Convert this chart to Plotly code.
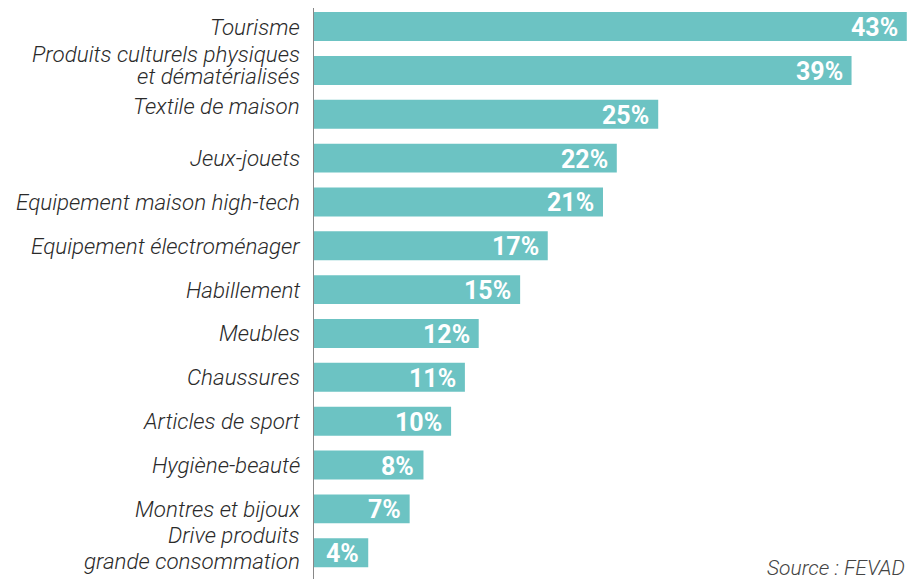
import plotly.graph_objects as go

categories = [
    "Tourisme",
    "Produits culturels physiques<br>et dématérialisés",
    "Textile de maison",
    "Jeux-jouets",
    "Equipement maison high-tech",
    "Equipement électroménager",
    "Habillement",
    "Meubles",
    "Chaussures",
    "Articles de sport",
    "Hygiène-beauté",
    "Montres et bijoux",
    "Drive produits<br>grande consommation",
]
values = [43, 39, 25, 22, 21, 17, 15, 12, 11, 10, 8, 7, 4]
source_text = "Source : FEVAD"

FONT = "Roboto, Liberation Sans, sans-serif"
BAR_COLOR = "#6cc3c3"
LABEL_SIZE = 22.4
LINE_STEP = {1: 22, 12: 26}   # line spacing for wrapped category labels (px)
MULTI_LINE_LIFT = 5           # wrapped labels sit a bit above bar centre
LABEL_LIFT = {2: 8}           # "Textile de maison" sits higher in the original

fig = go.Figure()
fig.add_trace(go.Bar(
    x=values,
    y=categories,
    orientation="h",
    marker=dict(color=BAR_COLOR, line=dict(width=0)),
    hoverinfo="skip",
))

annotations = []
# category labels (left of the axis)
for i, c in enumerate(categories):
    lines = c.split("<br>")
    n = len(lines)
    step = LINE_STEP.get(i, 22)
    base = LABEL_LIFT.get(i, 0) + (MULTI_LINE_LIFT if n > 1 else 0)
    for j, line in enumerate(lines):
        annotations.append(dict(
            x=0, y=c, xref="x", yref="y",
            text=f"<i>{line}</i>", showarrow=False,
            xanchor="right", yanchor="middle",
            xshift=-11, yshift=base + ((n - 1) / 2 - j) * step,
            font=dict(family=FONT, size=LABEL_SIZE, color="#2a2a2a", weight=300),
        ))
# value labels inside bar ends
for c, v in zip(categories, values):
    annotations.append(dict(
        x=v, y=c, xref="x", yref="y",
        text=f"<b>{v}%</b>", showarrow=False,
        xanchor="right", yanchor="middle", xshift=-7, yshift=-1,
        font=dict(family=FONT, size=25, color="white"),
    ))
annotations.append(dict(
    x=1, y=0, xref="paper", yref="paper",
    text=f"<i>{source_text}</i>", showarrow=False,
    xanchor="right", yanchor="bottom", xshift=-6, yshift=-3,
    font=dict(family=FONT, size=21, color="#444", weight=300),
))

# page body has an 8px margin, so the figure is sized to the remaining window
fig.update_layout(
    width=907, height=571,
    margin=dict(l=305, r=2, t=0, b=0, autoexpand=False),
    paper_bgcolor="white", plot_bgcolor="white",
    bargap=0.34,
    showlegend=False,
    annotations=annotations,
    xaxis=dict(range=[0, 43.45], visible=False, fixedrange=True),
    yaxis=dict(
        range=[12.6, -0.424],
        showgrid=False, zeroline=False, showline=False,
        showticklabels=False, ticks="",
        automargin=False, fixedrange=True,
    ),
    shapes=[dict(type="line", xref="x", yref="paper", x0=0, x1=0, y0=0, y1=1,
                 line=dict(color="#888", width=2))],
)

fig.write_html("out.html")
